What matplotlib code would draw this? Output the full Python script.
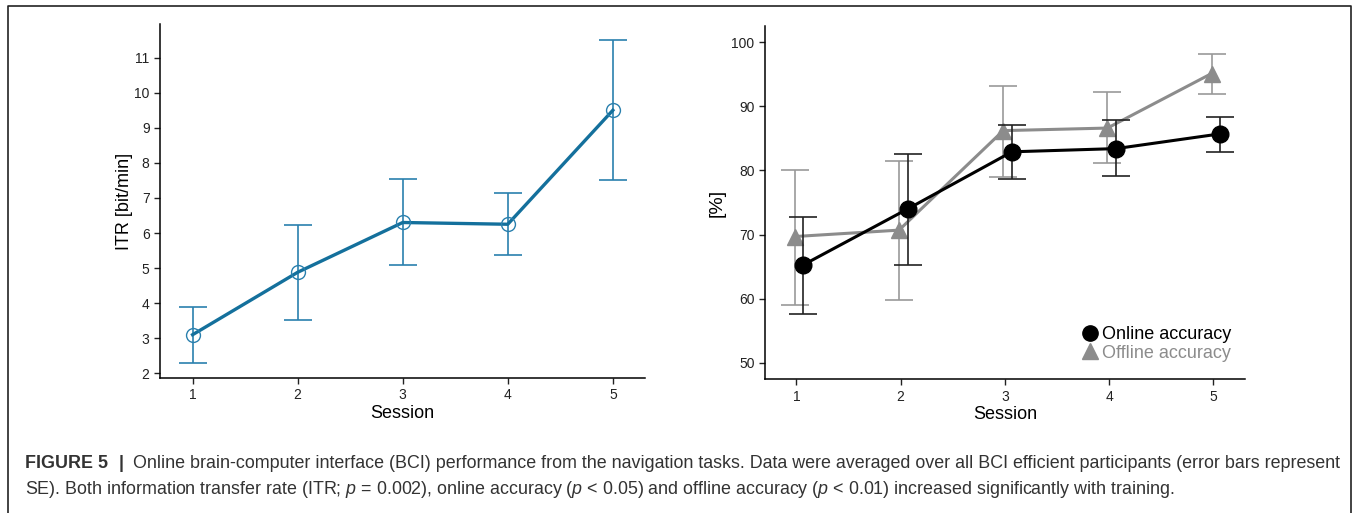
import matplotlib
matplotlib.use("Agg")
import matplotlib.pyplot as plt
from matplotlib.lines import Line2D
import numpy as np

# data
sessions = [1, 2, 3, 4, 5]
itr_mean = [3.1, 4.88, 6.3, 6.25, 9.5]
itr_lo = [2.3, 3.52, 5.08, 5.38, 7.5]
itr_hi = [3.9, 6.23, 7.55, 7.13, 11.5]

online_mean = [65.3, 74.0, 82.9, 83.4, 85.7]
online_lo = [57.7, 65.2, 78.7, 79.1, 82.8]
online_hi = [72.8, 82.5, 87.1, 87.9, 88.4]

offline_mean = [69.7, 70.7, 86.2, 86.6, 95.1]
offline_lo = [59.0, 59.8, 79.0, 81.1, 91.9]
offline_hi = [80.1, 81.4, 93.2, 92.2, 98.2]

caption_bold = "FIGURE 5"
caption_l1 = ("Online brain-computer interface (BCI) performance from the navigation tasks. "
              "Data were averaged over all BCI efficient participants (error bars represent")
caption_l2 = ("SE). Both information transfer rate (ITR; $p$ = 0.002), online accuracy ($p$ < 0.05) "
              "and offline accuracy ($p$ < 0.01) increased significantly with training.")

blue = "#14709c"
blue_err = "#2a80ae"
grey = "#8c8c8c"

plt.rcParams['font.family'] = ['Liberation Sans', 'DejaVu Sans']
plt.rcParams['mathtext.fontset'] = 'custom'
plt.rcParams['mathtext.it'] = 'Liberation Sans:italic'
plt.rcParams['mathtext.rm'] = 'Liberation Sans'

W, H = 1354, 513
fig = plt.figure(figsize=(W / 100, H / 100), dpi=100)


def yerr(mean, lo, hi):
    m = np.array(mean)
    return [m - np.array(lo), np.array(hi) - m]


def style(ax):
    for s in ['top', 'right']:
        ax.spines[s].set_visible(False)
    for s in ['left', 'bottom']:
        ax.spines[s].set_linewidth(1.1)
    ax.tick_params(direction='out', length=4, width=1, labelsize=10, colors='#222222')
    ax.set_xticks(sessions)
    ax.set_xlabel("Session", fontsize=13, labelpad=2)


# left panel: ITR
ax1 = fig.add_axes([160 / W, 1 - 378 / H, 485 / W, 354 / H])
ax1.errorbar(sessions, itr_mean, yerr=yerr(itr_mean, itr_lo, itr_hi), fmt='none',
             ecolor=blue_err, elinewidth=1.2, capsize=10, capthick=1.2)
ax1.plot(sessions, itr_mean, color=blue, lw=2.4, zorder=3)
ax1.plot(sessions, itr_mean, 'o', ms=10, mfc='none', mec=blue_err, mew=1.0, zorder=4)
ax1.set_xlim(0.69, 5.306)
ax1.set_ylim(1.866, 11.96)
ax1.set_yticks(range(2, 12))
ax1.set_ylabel("ITR [bit/min]", fontsize=13, labelpad=1)
style(ax1)

# right panel: accuracy
ax2 = fig.add_axes([765 / W, 1 - 379.3 / H, 480 / W, 353.3 / H])
x_off = np.array(sessions) - 0.015
x_on = np.array(sessions) + 0.068
ax2.errorbar(x_off, offline_mean, yerr=yerr(offline_mean, offline_lo, offline_hi), fmt='none',
             ecolor='#999999', elinewidth=1.2, capsize=10, capthick=1.2)
ax2.plot(x_off, offline_mean, color=grey, lw=2.2, marker='^', ms=12, mfc=grey, mec=grey, zorder=3)
ax2.errorbar(x_on, online_mean, yerr=yerr(online_mean, online_lo, online_hi), fmt='none',
             ecolor='#222222', elinewidth=1.2, capsize=10, capthick=1.2, zorder=4)
ax2.plot(x_on, online_mean, color='black', lw=2.2, marker='o', ms=12, zorder=5)
ax2.set_xlim(0.699, 5.305)
ax2.set_ylim(47.46, 102.5)
ax2.set_yticks(range(50, 101, 10))
ax2.set_ylabel("[%]", fontsize=14, labelpad=4)
style(ax2)

handles = [Line2D([], [], ls='none', marker='o', ms=11, color='black'),
           Line2D([], [], ls='none', marker='^', ms=12, color=grey)]
leg = ax2.legend(handles, ["Online accuracy", "Offline accuracy"], loc='lower right',
                 bbox_to_anchor=(1.005, 0.004), frameon=False, fontsize=13,
                 handletextpad=0.15, handlelength=1.0, labelspacing=0.1)
leg.get_texts()[1].set_color(grey)

# caption
cap_size = 12.85
cap_col = '#333333'
fig.text(25 / W, 1 - 464 / H, caption_bold, fontsize=cap_size, fontweight='bold',
         color=cap_col, va='center')
fig.text(121 / W, 1 - 464 / H, "|", fontsize=cap_size, fontweight='bold',
         color=cap_col, va='center', ha='center')
fig.text(133 / W, 1 - 464 / H, caption_l1, fontsize=cap_size, color=cap_col, va='center')
fig.text(25 / W, 1 - 490 / H, caption_l2, fontsize=cap_size, color=cap_col, va='center')

# frame around the figure
fig.add_artist(Line2D([8 / W, 8 / W, 1351 / W, 1351 / W], [-0.01, 1 - 6 / H, 1 - 6 / H, -0.01],
                      transform=fig.transFigure, color='#222222', lw=1.2))

fig.savefig("out.png", dpi=100)
